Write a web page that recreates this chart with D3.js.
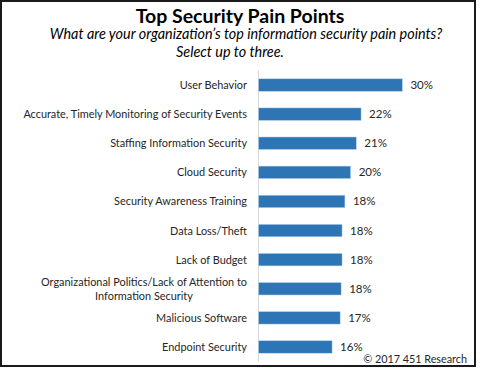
<!DOCTYPE html>
<html>
<head>
<meta charset="utf-8">
<script src="https://cdn.jsdelivr.net/npm/d3@7"></script>
<style>
  html, body { margin: 0; padding: 0; background: #fff; }
  svg { display: block; }
  text { font-family: Lato, "Open Sans", sans-serif; fill: #000; }
</style>
</head>
<body>
<svg id="chart" width="481" height="370"></svg>
<script>
const title = "Top Security Pain Points";
const subtitleLines = ["What are your organization\u2019s top information security pain points?", "Select up to three."];
const categories = [
  "User Behavior",
  "Accurate, Timely Monitoring of Security Events",
  "Staffing Information Security",
  "Cloud Security",
  "Security Awareness Training",
  "Data Loss/Theft",
  "Lack of Budget",
  "Organizational Politics/Lack of Attention to|Information Security",
  "Malicious Software",
  "Endpoint Security"
];
const values = [30.4, 21.7, 20.7, 19.5, 18.3, 17.7, 17.7, 17.5, 17.3, 15.6];
const source = "\u00a9 2017 451 Research";

const svg = d3.select("#chart");

// frame
svg.append("rect")
  .attr("x", 1).attr("y", 1).attr("width", 474).attr("height", 365)
  .attr("fill", "#fff").attr("stroke", "#1a1a1a").attr("stroke-width", 2);

// titles
svg.append("text")
  .attr("x", 240).attr("y", 23)
  .attr("text-anchor", "middle")
  .style("font-size", "19.5px").style("font-weight", "bold")
  .text(title);

const subX = [246, 230];
svg.selectAll(".sub").data(subtitleLines).enter().append("text")
  .attr("class", "sub")
  .attr("x", (d, i) => subX[i]).attr("y", (d, i) => 39 + i * 18)
  .attr("text-anchor", "middle")
  .style("font-size", "14.4px").style("font-style", "italic")
  .text(d => d);

const x = d3.scaleLinear().domain([0, 40]).range([258, 448]);
const y = d3.scaleBand().domain(categories).range([70.5, 361.5])
  .paddingInner(0.57).paddingOuter(0.285);

// axis line
const yAxis = d3.axisLeft(y).tickSize(0).tickFormat("");
const ag = svg.append("g").attr("transform", `translate(${x(0)},0)`).call(yAxis);
ag.select(".domain").attr("stroke", "#d9d9d9").attr("stroke-width", 1)
  .attr("d", `M0.5,70.5V361.5`);

// bars
svg.selectAll(".bar").data(values).enter().append("rect")
  .attr("class", "bar")
  .attr("x", x(0) + 0.5)
  .attr("y", (d, i) => y(categories[i]))
  .attr("width", d => x(d) - x(0) - 0.5)
  .attr("height", y.bandwidth())
  .attr("fill", "#2e75b6")
  .attr("stroke", "#bdd7ee").attr("stroke-width", 0.5);

// value labels
svg.selectAll(".val").data(values).enter().append("text")
  .attr("class", "val")
  .attr("x", d => x(d) + 8)
  .attr("y", (d, i) => y(categories[i]) + y.bandwidth() / 2 + 4)
  .style("font-size", "11.5px").style("fill", "#262626")
  .text(d => Math.round(d) + "%");

// category labels
const labelRight = 247;
categories.forEach((c, i) => {
  const lines = c.split("|");
  const cy = y(c) + y.bandwidth() / 2;
  const g = svg.append("g");
  const texts = lines.map((ln, j) => g.append("text")
    .attr("y", cy + 4 + (j - (lines.length - 1) / 2) * 13.5)
    .style("font-size", "10.9px").style("fill", "#262626")
    .text(ln));
  const widths = texts.map(t => t.node().getComputedTextLength());
  const maxW = Math.max(...widths);
  const cx = labelRight - maxW / 2;
  texts.forEach(t => t.attr("x", cx).attr("text-anchor", "middle"));
});

// source
svg.append("text")
  .attr("x", 467).attr("y", 363)
  .attr("text-anchor", "end")
  .style("font-size", "10.8px").style("fill", "#262626")
  .text(source);
</script>
</body>
</html>
